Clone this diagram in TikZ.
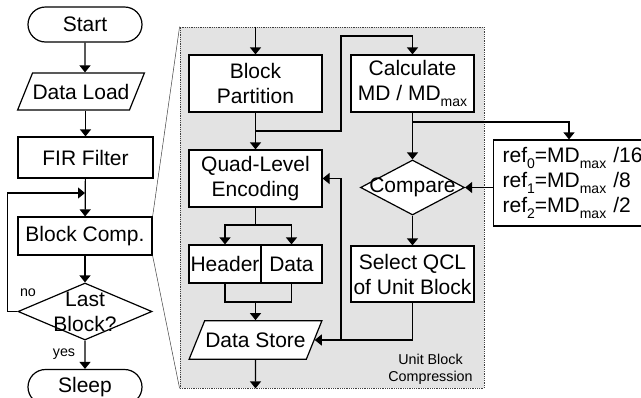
\documentclass[tikz,border=0pt]{standalone}
\usepackage{fontspec}
\setmainfont{Liberation Sans}
\usetikzlibrary{arrows.meta, shapes.geometric, shapes.misc}
\definecolor{panelgray}{RGB}{227,227,227}
\newcommand{\lsub}[1]{\raisebox{-6pt}{\fontsize{14}{14}\selectfont #1}}

\begin{document}
\begin{tikzpicture}[x=1pt, y=-1pt, line width=1.2pt, font=\fontsize{21}{25}\selectfont,
  box/.style={draw, fill=white, inner sep=0pt, align=center, minimum width=133pt, minimum height=38pt},
  term/.style={draw, rounded rectangle, inner sep=0pt, minimum width=114pt, minimum height=35pt},
  io/.style={draw, fill=white, trapezium, trapezium left angle=68, trapezium right angle=112, text height=15pt, text depth=0pt, inner xsep=0pt, inner ysep=11pt},
  dec/.style={draw, fill=white, diamond, inner sep=0pt},
  arr/.style={-{Triangle[width=11pt, length=7pt]}},
  small/.style={font=\fontsize{14.3}{17}\selectfont, align=center},
  every label/.append style={align=center}]
  \useasboundingbox (0,0) rectangle (641,397);
  \clip (0,0) rectangle (641,397);

  % main loop
  \node[term] (start) at (85,24.5) {Start};
  \node[io, minimum width=125pt] (load) at (81,91.5) {Data Load};
  \node[box, minimum width=135pt, minimum height=41pt] (fir) at (85.5,157.5) {FIR Filter};
  \node[box, minimum width=134pt] (comp) at (85,236) {Block Comp.};
  \node[dec, minimum width=134pt, minimum height=57pt, label={center:Last\\Block?}] (last) at (85,311.5) {};
  \node[term] (sleep) at (85,387) {Sleep};
  \node[small] (no) at (28,293) {no};
  \node[small] (yes) at (64,354) {yes};
  \coordinate (back) at (85,193);

  \draw[arr] (start) -- (start |- load.north);
  \draw[arr] (fir.north |- load.south) -- (fir);
  \draw[arr] (fir) -- (comp);
  \draw[arr] (comp) -- (last);
  \draw[arr] (last) -- (sleep);
  \draw[arr] (last.west) -- ++(-10,0) |- (back);

  % unit block compression
  \node[draw=black!75, densely dotted, line width=0.8pt, fill=panelgray, inner sep=0pt, minimum width=304pt, minimum height=361pt] (panel) at (332,207.5) {};
  \draw[line width=0.5pt, black!75] (comp.north east) -- (panel.north west) (comp.south east) -- (panel.south west);

  \node[box, minimum height=57pt] (part) at (255.5,83.5) {Block\\Partition};
  \node[box, minimum width=123pt, minimum height=57pt] (calc) at (412.5,83.5) {Calculate\\MD / MD\lsub{max}};
  \node[box, minimum height=57pt] (quad) at (255.5,178.5) {Quad-Level\\Encoding};
  \node[box, minimum width=72pt] (hdr) at (225,264) {Header};
  \node[box, minimum width=61pt] (dat) at (291.5,264) {Data};
  \node[io, minimum width=133pt, inner ysep=11.5pt] (store) at (255.5,340) {Data Store};
  \node[dec, minimum width=104pt, minimum height=55pt, label={center:Compare}] (cmp) at (412.5,187.5) {};
  \node[box, minimum width=123pt, minimum height=56pt] (sel) at (412.5,274) {Select QCL\\of Unit Block};
  \node[draw, fill=white, anchor=west, text width=160pt, inner xsep=9pt, minimum height=86pt, align=left] (refs) at (493,183)
    {ref\lsub{0}=MD\lsub{max} /16\\ref\lsub{1}=MD\lsub{max} /8\\ref\lsub{2}=MD\lsub{max} /2};
  \node[small] (title) at (430.5,369) {Unit Block\\Compression};
  \coordinate (j1) at (255.5,131);
  \coordinate (j2) at (341,36);
  \coordinate (j3) at (255.5,225);
  \coordinate (j4) at (255.5,302);
  \coordinate (j5) at (412.5,122);
  \coordinate (j6) at (341,340);

  \draw[arr] (part.north |- panel.north) -- (part);
  \draw[arr] (part) -- (quad);
  \draw[arr] (j1) -| (j2) -| (calc);
  \draw (quad) -- (j3);
  \draw[arr] (j3) -| (hdr);
  \draw[arr] (j3) -| (dat);
  \draw (hdr) |- (j4);
  \draw (dat) |- (j4);
  \draw[arr] (j4) -- (store);
  \draw[arr] (store) -- (store |- panel.south);
  \draw[arr] (calc) -- (cmp);
  \draw[arr] (j5) -| ([xshift=76pt]refs.north west);
  \draw[arr] (refs.west |- cmp) -- (cmp);
  \draw[arr] (cmp) -- (sel);
  \draw[arr] (sel) |- (store.east);
  \draw[arr] (j6) |- (quad);
\end{tikzpicture}
\end{document}
